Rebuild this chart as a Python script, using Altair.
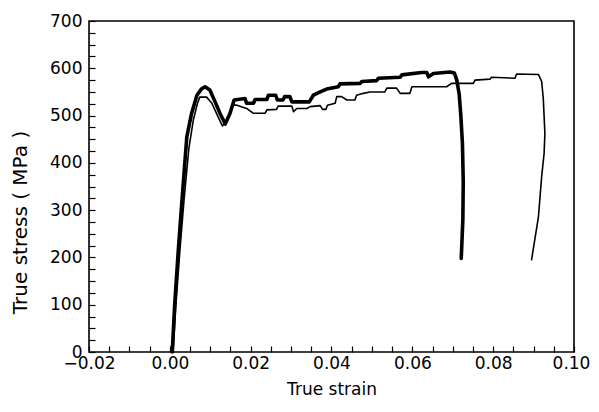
import altair as alt
import pandas as pd

# Specimen with thick line (breaks near 0.072)
thick_strain = [0.0006, 0.0012, 0.0021, 0.0030, 0.0042, 0.0054, 0.0067, 0.0078, 0.0087,
                0.0099, 0.0112, 0.0124, 0.0137, 0.0149, 0.0159, 0.0186, 0.0190, 0.0207,
                0.0211, 0.0240, 0.0244, 0.0262, 0.0266, 0.0280, 0.0284, 0.0297, 0.0302,
                0.0345, 0.0355, 0.0372, 0.0388, 0.0417, 0.0421, 0.0471, 0.0475, 0.0512,
                0.0516, 0.0570, 0.0574, 0.0623, 0.0636, 0.0640, 0.0652, 0.0693, 0.0704,
                0.0710, 0.0716, 0.0720, 0.0724, 0.0726, 0.0725, 0.0721]
thick_stress = [0, 100, 216, 320, 455, 505, 543, 556, 561,
                554, 529, 505, 482, 505, 533, 536, 526, 526,
                534, 534, 543, 543, 533, 533, 540, 540, 529,
                529, 543, 550, 556, 561, 567, 568, 572, 574,
                579, 581, 586, 591, 591, 582, 589, 592, 590,
                575, 545, 500, 440, 360, 280, 198]

# Specimen with thin line (breaks near 0.092)
thin_strain = [0.0008, 0.0015, 0.0025, 0.0035, 0.0047, 0.0058, 0.0068, 0.0074, 0.0091,
               0.0104, 0.0118, 0.0130, 0.0142, 0.0157, 0.0166, 0.0190, 0.0206, 0.0236,
               0.0240, 0.0264, 0.0268, 0.0302, 0.0306, 0.0314, 0.0339, 0.0347, 0.0372,
               0.0378, 0.0386, 0.0390, 0.0409, 0.0413, 0.0425, 0.0438, 0.0458, 0.0462,
               0.0479, 0.0495, 0.0532, 0.0537, 0.0561, 0.0570, 0.0594, 0.0599, 0.0685,
               0.0697, 0.0751, 0.0755, 0.0792, 0.0796, 0.0854, 0.0858, 0.0912, 0.0920,
               0.0924, 0.0928, 0.0926, 0.0920, 0.0912, 0.0895]
thin_stress = [0, 100, 216, 320, 430, 490, 525, 539, 539,
               526, 500, 478, 490, 522, 522, 515, 505, 505,
               512, 513, 520, 520, 508, 515, 515, 519, 521,
               513, 513, 522, 526, 540, 540, 533, 533, 543,
               547, 550, 550, 558, 558, 547, 547, 561, 561,
               568, 568, 575, 577, 581, 579, 588, 587, 572,
               536, 462, 420, 371, 286, 195]

x_ticks = [-0.02, -0.015, -0.01, -0.005, 0.0, 0.005, 0.01, 0.015, 0.02, 0.025, 0.03,
           0.035, 0.04, 0.045, 0.05, 0.055, 0.06, 0.065, 0.07, 0.075, 0.08, 0.085,
           0.09, 0.095, 0.10]
y_ticks = [0, 25, 50, 75, 100, 125, 150, 175, 200, 225, 250, 275, 300, 325, 350,
           375, 400, 425, 450, 475, 500, 525, 550, 575, 600, 625, 650, 675, 700]

rows = []
for i, (s, t) in enumerate(zip(thick_strain, thick_stress)):
    rows.append({"strain": s, "stress": t, "specimen": "A", "idx": i})
for i, (s, t) in enumerate(zip(thin_strain, thin_stress)):
    rows.append({"strain": s, "stress": t, "specimen": "B", "idx": i})
df = pd.DataFrame(rows)

FONT = "DejaVu Sans"

chart = alt.Chart(df).mark_line(color="black", strokeJoin="round", strokeCap="round").encode(
    x=alt.X("strain:Q",
            scale=alt.Scale(domain=[-0.02, 0.10], nice=False, zero=False),
            axis=alt.Axis(values=x_ticks, offset=-6, tickSize=6, domain=False,
                          labelExpr="abs(round(datum.value*1000)) % 20 == 0 ? format(datum.value, '.2f') : ''",
                          labelFlush=False, labelOverlap=False, labelBound=False,
                          labelOffset={"condition": {"test": "datum.value > 0.099", "value": -3}, "value": 0},
                          labelPadding=3, title="True strain", titleY=43,
                          titleBaseline="middle", titleFontSize=17)),
    y=alt.Y("stress:Q",
            scale=alt.Scale(domain=[0, 700], nice=False),
            axis=alt.Axis(values=y_ticks, offset=-6, tickSize=6, domain=False,
                          labelExpr="datum.value % 100 == 0 ? format(datum.value, 'd') : ''",
                          labelFlush=False, labelOverlap=False, labelBound=False,
                          labelPadding=7, title="True stress ( MPa )",
                          titleX=-75, titleY=201, titleBaseline="middle",
                          titleFontSize=20)),
    strokeWidth=alt.StrokeWidth("specimen:N",
                                scale=alt.Scale(domain=["A", "B"], range=[3.6, 1.6]),
                                legend=None),
    detail="specimen:N",
    order="idx:Q",
).properties(
    width=485, height=331,
    padding={"left": 81, "top": 13, "right": 17, "bottom": 50},
    autosize=alt.AutoSizeParams(type="none"),
).configure_view(
    stroke="black", strokeWidth=1.6
).configure_axis(
    labelFont=FONT, labelFontSize=17, labelColor="black",
    titleFont=FONT, titleColor="black", titleFontWeight="normal",
    tickColor="black", tickWidth=1.2, grid=False
)

chart.save("out.html", embed_options={"renderer": "svg", "actions": False})
